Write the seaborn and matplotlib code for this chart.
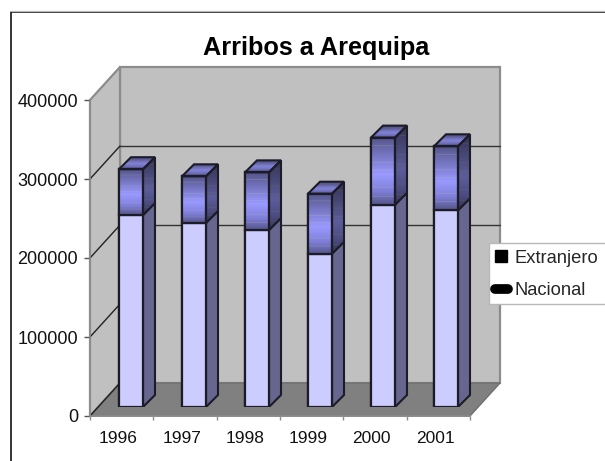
import numpy as np
import seaborn as sns
import matplotlib
matplotlib.use("Agg")
import matplotlib.pyplot as plt
from matplotlib.colors import LinearSegmentedColormap
from matplotlib.lines import Line2D
from matplotlib.patches import Polygon, Rectangle

years = ["1996", "1997", "1998", "1999", "2000", "2001"]
nacional = [243000, 233000, 224000, 194000, 256000, 249000]
extranjero = [58000, 59000, 73000, 76000, 85000, 81000]
title = "Arribos a Arequipa"
yticks = [0, 100000, 200000, 300000, 400000]

W, H = 605, 461
sns.set_theme(style="white")
plt.rcParams["font.family"] = ["Liberation Sans", "DejaVu Sans"]
fig = plt.figure(figsize=(W / 100, H / 100), dpi=100, facecolor="white")


def axes_px(x0, y0, x1, y1):
    return fig.add_axes([x0 / W, 1 - y1 / H, (x1 - x0) / W, (y1 - y0) / H])


# frame of the 3D box: front plane with the value axis
PX = 79 / 100000
FX0, FX1, FY0 = 90, 470, 416
DX, DY = 30, 33
fy = lambda v: FY0 - v * PX

bg = axes_px(0, 0, W, H)
bg.set_xlim(0, W)
bg.set_ylim(H, 0)
bg.axis("off")
bg.plot([10, W], [11.5, 11.5], color="#b8b8b8", lw=0.9)
bg.add_patch(Rectangle((10.5, 12.5), W, H, fill=False, ec="black", lw=1.1))
top = fy(400000)
wall = "#c0c0c0"
line = "#8c8c8c"
bg.add_patch(Polygon([(FX0 + DX, top - DY), (FX1 + DX, top - DY), (FX1 + DX, FY0 - DY), (FX0 + DX, FY0 - DY)],
                     fc=wall, ec=line, lw=1.6))
bg.add_patch(Polygon([(FX0, top), (FX0 + DX, top - DY), (FX0 + DX, FY0 - DY), (FX0, FY0)],
                     fc=wall, ec=line, lw=1.6))
bg.add_patch(Polygon([(FX0, FY0), (FX0 + DX, FY0 - DY), (FX1 + DX, FY0 - DY), (FX1, FY0)],
                     fc="#808080", ec="#707070", lw=1))
for v in yticks[1:-1]:
    y = fy(v)
    bg.plot([FX0, FX0 + DX], [y, y - DY], color="#222222", lw=1)
    if v > 100000:
        bg.plot([FX0 + DX, FX1 + DX], [y - DY, y - DY], color="#333333", lw=1)
bg.plot([FX0, FX0 + DX], [FY0, FY0 - DY], color="#222222", lw=1)

# value / category axis
axf = axes_px(FX0, top, FX1, FY0)
axf.patch.set_alpha(0)
axf.set_xlim(0, len(years))
axf.set_ylim(0, 400000)
for s in ("top", "right"):
    axf.spines[s].set_visible(False)
for s in ("left", "bottom"):
    axf.spines[s].set_color(line)
    axf.spines[s].set_linewidth(1.2)
axf.set_yticks(yticks)
axf.set_yticklabels([str(v) for v in yticks], fontsize=13, color="#111111")
axf.set_xticks(range(len(years) + 1))
axf.set_xticklabels([])
axf.set_xticks(np.arange(len(years)) + 0.45, minor=True)
axf.set_xticklabels(years, minor=True, fontsize=12.5, color="#111111")
axf.tick_params(axis="y", length=4, width=1, color="#555555", pad=4.5, left=True)
axf.tick_params(axis="x", which="major", length=3, width=1, color=line, bottom=True)
axf.tick_params(axis="x", which="minor", length=0, pad=10.5)
axf.grid(False)

# bars
PITCH = 63
BW = 24
BX0, BY0 = 99.5, 407
ax = axes_px(BX0, BY0 - 400000 * PX, BX0 + PITCH * len(years), BY0)
ax.patch.set_alpha(0)
ax.axis("off")
total = [a + b for a, b in zip(nacional, extranjero)]
edge = "#1c1c28"
wb = BW / PITCH
ddx, ddy = 12 / PITCH, 12 / PX

grad = LinearSegmentedColormap.from_list(
    "g", [(0, "#55558a"), (0.55, "#9a9aff"), (0.8, "#7f7fd8"), (1, "#55558a")])
streak_rows = [0.13, 0.37, 0.49, 0.74, 0.88]
t = np.linspace(0, 1, 120)
shade = grad(t)[:, :3]
for r in streak_rows:
    k = int(r * 119)
    shade[k] = shade[k] * 0.65 + np.array([0.80, 0.80, 0.72]) * 0.35
img = shade[:, None, :]

sns.barplot(x=years, y=total, color="#7878c8", width=wb, saturation=1, ax=ax,
            edgecolor=edge, linewidth=1.6, zorder=2)
sns.barplot(x=years, y=nacional, color="#ccccff", width=wb, saturation=1, ax=ax,
            edgecolor=edge, linewidth=1.6, zorder=4)
ax.set_xlim(-0.5, len(years) - 0.5)
ax.set_ylim(0, 400000)

for i, (n, tt) in enumerate(zip(nacional, total)):
    l, r = i - wb / 2, i + wb / 2
    # Nacional side
    ax.add_patch(Polygon([(r, 0), (r + ddx, ddy), (r + ddx, n + ddy), (r, n)],
                         fc="#66668f", ec=edge, lw=1.5, zorder=3))
    # Extranjero front gradient
    front = Polygon([(l, n), (r, n), (r, tt), (l, tt)], fc="none", ec=edge, lw=1.6, zorder=6)
    ax.add_patch(front)
    im = ax.imshow(img, extent=(l, r, n, tt), aspect="auto", zorder=5)
    im.set_clip_path(front)
    # Extranjero side
    side = Polygon([(r, n), (r + ddx, n + ddy), (r + ddx, tt + ddy), (r, tt)], fc="none", ec=edge, lw=1.5, zorder=6)
    ax.add_patch(side)
    im = ax.imshow(img * 0.6, extent=(r, r + ddx, n, tt + ddy), aspect="auto", zorder=5)
    im.set_clip_path(side)
    # top face
    topf = Polygon([(l, tt), (r, tt), (r + ddx, tt + ddy), (l + ddx, tt + ddy)], fc="none", ec=edge, lw=1.5, zorder=6)
    ax.add_patch(topf)
    im = ax.imshow(img * 0.85, extent=(l, r + ddx, tt, tt + ddy), aspect="auto", zorder=5)
    im.set_clip_path(topf)
ax.set_xlim(-0.5, len(years) - 0.5)
ax.set_ylim(0, 400000)

fig.text(316 / W, 1 - 48 / H, title, fontsize=18.2, fontweight="bold", ha="center", va="center", color="black")

# legend box
fig.add_artist(Rectangle((489 / W, 1 - 304 / H), 120 / W, 61 / H, transform=fig.transFigure,
                         fc="white", ec="#b8b8b8", lw=1, zorder=4))
handles = [
    Line2D([], [], color="none", marker="s", markersize=8.5, markerfacecolor="black", markeredgecolor="black"),
    Line2D([], [], color="black", lw=7, solid_capstyle="round"),
]
leg = fig.legend(handles, ["Extranjero", "Nacional"], loc="upper left",
                 bbox_to_anchor=(491 / W, 1 - 246 / H), bbox_transform=fig.transFigure,
                 fontsize=13.2, frameon=False, borderpad=0.2, labelspacing=0.85, handlelength=0.72,
                 handletextpad=0.36, borderaxespad=0)
leg.set_zorder(5)

fig.savefig("out.png", dpi=100)
